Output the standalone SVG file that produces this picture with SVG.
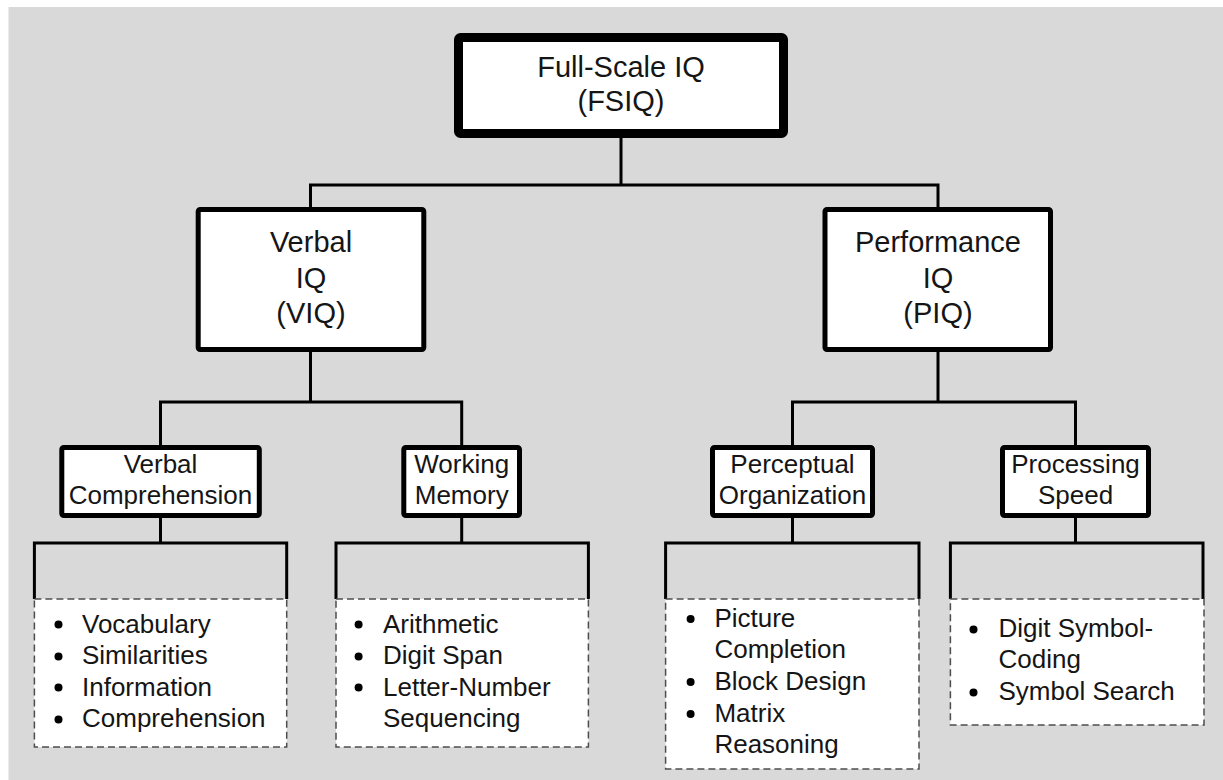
<svg xmlns="http://www.w3.org/2000/svg" width="1223" height="780" viewBox="0 0 1223 780">
<style>
.bg{fill:#d9d9d9}
.box{fill:#fff;stroke:#000;stroke-linejoin:round}
.b1{stroke-width:9}
.b2{stroke-width:5}
.b3{stroke-width:5}
.list{fill:#fff;stroke:#4d4d4d;stroke-width:1.5;stroke-dasharray:7 4}
.conn{fill:none;stroke:#000;stroke-width:3;stroke-linejoin:miter}
text{font-family:"Liberation Sans",Arial,sans-serif;fill:#151515}
.t1{font-size:29px;text-anchor:middle}
.t3{font-size:26px;text-anchor:middle}
.li{font-size:26px}
.dot{fill:#000}
</style>
<rect class="bg" x="8.5" y="7" width="1215" height="773"/>
<g id="connectors">
<path class="conn" d="M621 138V185M310.5 207V185H938V207"/>
<path class="conn" d="M310.5 352V402M160.5 445V402H461.7V445"/>
<path class="conn" d="M938 352V402M792.5 445V402H1075.5V445"/>
<path class="conn" d="M160.5 518V543M34.4 599V543H286.7V599"/>
<path class="conn" d="M461.7 518V543M336 599V543H588.4V599"/>
<path class="conn" d="M792.5 518V543M665.6 599V543H919V599"/>
<path class="conn" d="M1075.5 518V543M950.4 599V543H1203V599"/>
</g>
<g id="fsiq">
<rect class="box b1" x="458.5" y="37.5" width="325" height="96" rx="2"/>
<text class="t1" x="621" y="77">Full-Scale IQ</text>
<text class="t1" x="621" y="111">(FSIQ)</text>
</g>
<g id="viq">
<rect class="box b2" x="198.2" y="209.5" width="225.6" height="140" rx="2"/>
<text class="t1" x="311" y="252">Verbal</text>
<text class="t1" x="311" y="288">IQ</text>
<text class="t1" x="311" y="323">(VIQ)</text>
</g>
<g id="piq">
<rect class="box b2" x="825" y="209.5" width="225.5" height="140" rx="2"/>
<text class="t1" x="938" y="252">Performance</text>
<text class="t1" x="938" y="288">IQ</text>
<text class="t1" x="938" y="323">(PIQ)</text>
</g>
<g id="verbal-comprehension">
<rect class="box b3" x="61.8" y="447.5" width="197.5" height="68" rx="2"/>
<text class="t3" x="160.5" y="473">Verbal</text>
<text class="t3" x="160.5" y="504">Comprehension</text>
</g>
<g id="working-memory">
<rect class="box b3" x="403.8" y="447.5" width="115.7" height="68" rx="2"/>
<text class="t3" x="461.7" y="473">Working</text>
<text class="t3" x="461.7" y="504">Memory</text>
</g>
<g id="perceptual-organization">
<rect class="box b3" x="712.5" y="447.5" width="160" height="68" rx="2"/>
<text class="t3" x="792.5" y="473">Perceptual</text>
<text class="t3" x="792.5" y="504">Organization</text>
</g>
<g id="processing-speed">
<rect class="box b3" x="1002.5" y="447.5" width="146" height="68" rx="2"/>
<text class="t3" x="1075.5" y="473">Processing</text>
<text class="t3" x="1075.5" y="504">Speed</text>
</g>
<g id="vc-subtests">
<rect class="list" x="34.4" y="599" width="252.3" height="148"/>
<circle class="dot" cx="58.5" cy="624.5" r="4"/>
<circle class="dot" cx="58.5" cy="656.5" r="4"/>
<circle class="dot" cx="58.5" cy="687.5" r="4"/>
<circle class="dot" cx="58.5" cy="719.5" r="4"/>
<text class="li" x="82" y="632.5">Vocabulary</text>
<text class="li" x="82" y="664">Similarities</text>
<text class="li" x="82" y="695.5">Information</text>
<text class="li" x="82" y="727">Comprehension</text>
</g>
<g id="wm-subtests">
<rect class="list" x="336" y="599" width="252.4" height="148"/>
<circle class="dot" cx="358.6" cy="624.5" r="4"/>
<circle class="dot" cx="358.6" cy="656.5" r="4"/>
<circle class="dot" cx="358.6" cy="687.5" r="4"/>
<text class="li" x="383" y="632.5">Arithmetic</text>
<text class="li" x="383" y="664">Digit Span</text>
<text class="li" x="383" y="695.5">Letter-Number</text>
<text class="li" x="383" y="727">Sequencing</text>
</g>
<g id="po-subtests">
<rect class="list" x="665.6" y="599" width="253.4" height="170"/>
<circle class="dot" cx="690.6" cy="619" r="4"/>
<circle class="dot" cx="690.6" cy="682" r="4"/>
<circle class="dot" cx="690.6" cy="714" r="4"/>
<text class="li" x="714.4" y="627">Picture</text>
<text class="li" x="714.4" y="658">Completion</text>
<text class="li" x="714.4" y="690">Block Design</text>
<text class="li" x="714.4" y="722">Matrix</text>
<text class="li" x="714.4" y="753">Reasoning</text>
</g>
<g id="ps-subtests">
<rect class="list" x="950.4" y="599" width="253.6" height="126"/>
<circle class="dot" cx="973.5" cy="629.5" r="4"/>
<circle class="dot" cx="973.5" cy="692.5" r="4"/>
<text class="li" x="998.5" y="637">Digit Symbol-</text>
<text class="li" x="998.5" y="668">Coding</text>
<text class="li" x="998.5" y="700">Symbol Search</text>
</g>
</svg>
